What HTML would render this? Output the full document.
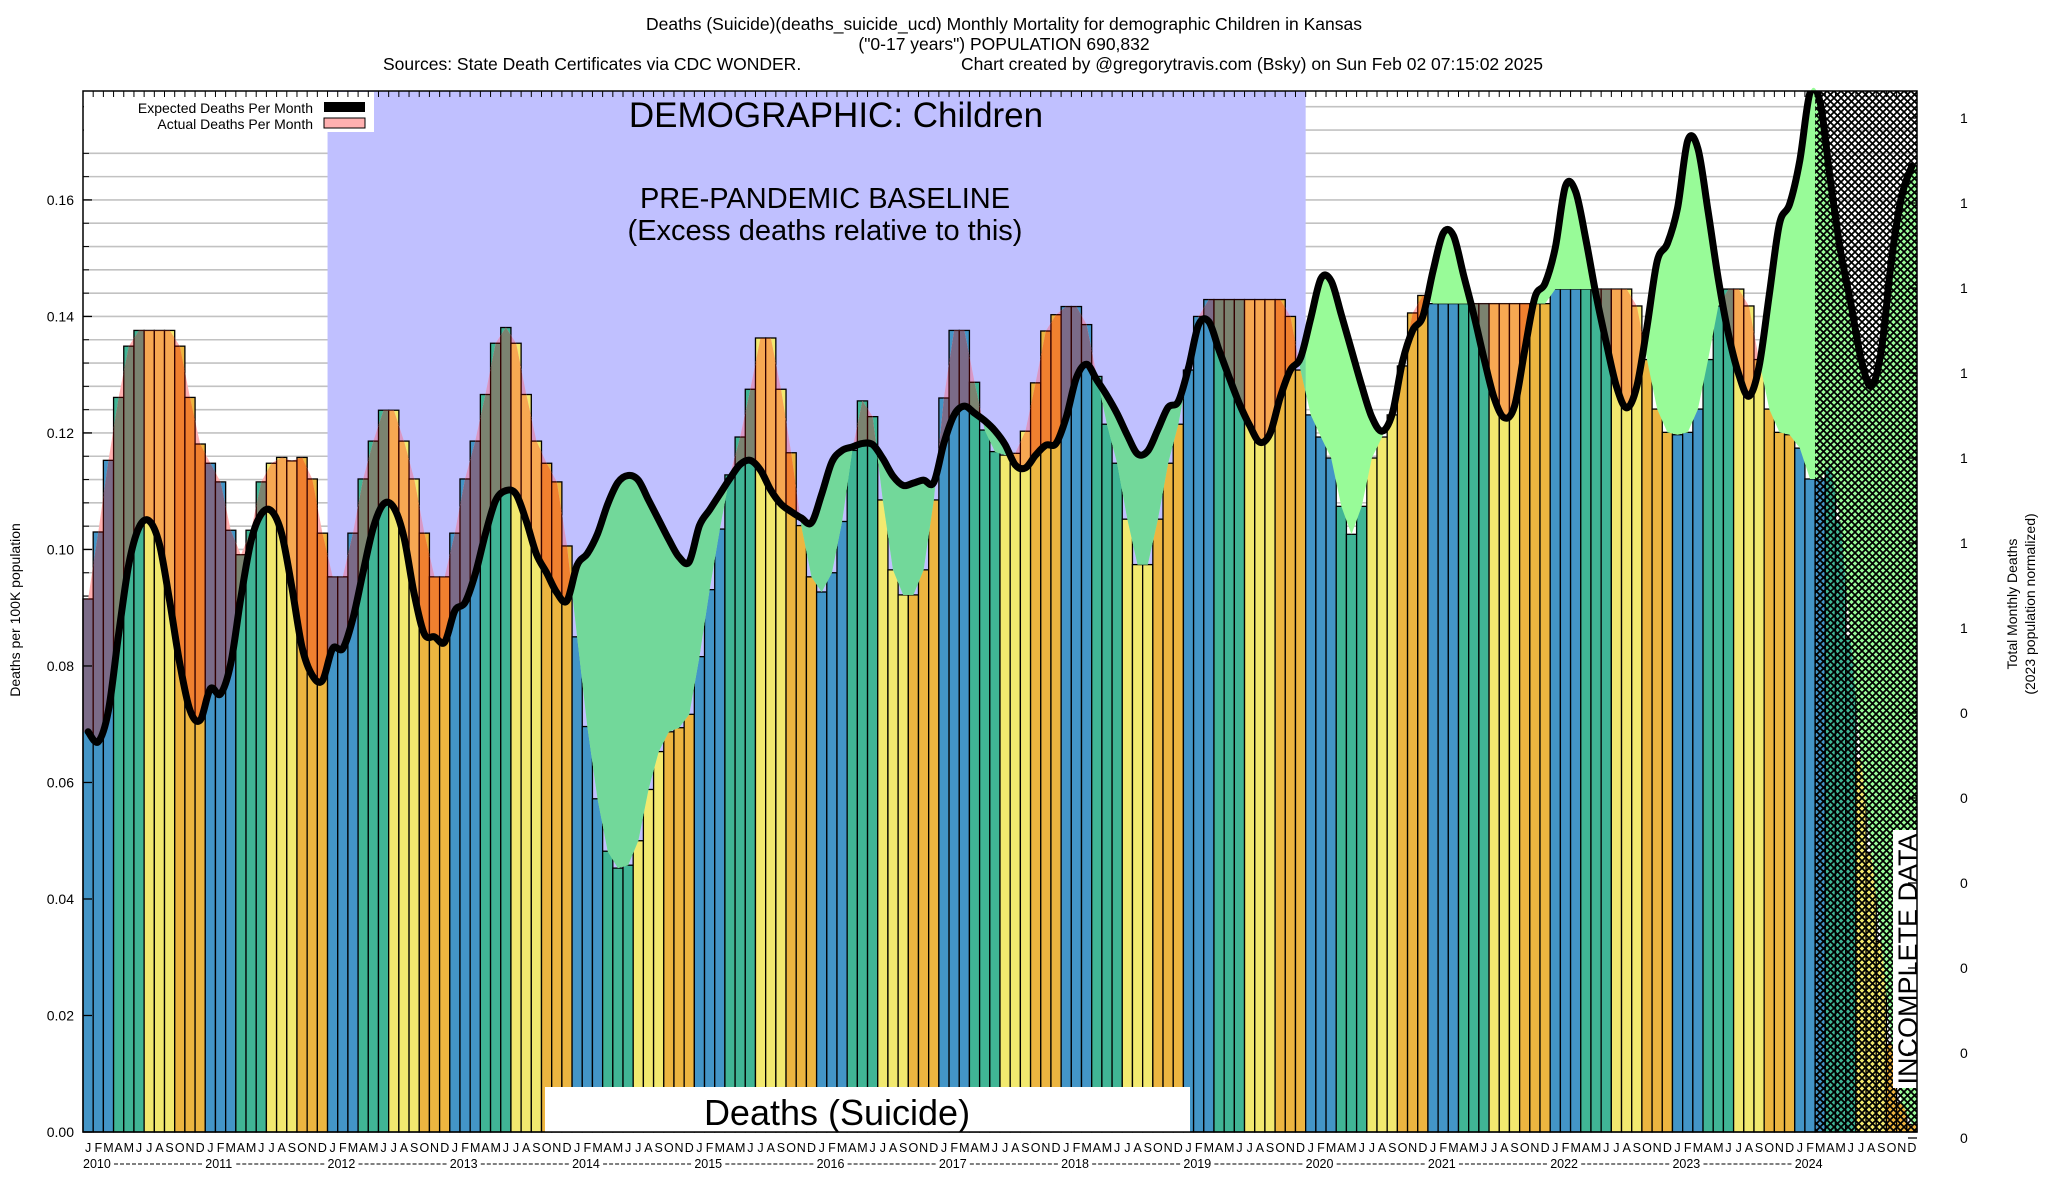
<!DOCTYPE html>
<html><head><meta charset="utf-8"><style>
html,body{margin:0;padding:0;background:#fff}
svg{display:block}
text{font-family:"Liberation Sans",sans-serif}
</style></head><body>
<svg id="chart" xmlns="http://www.w3.org/2000/svg" width="2048" height="1200" viewBox="0 0 2048 1200">
<defs>
<pattern id="hatch" width="7" height="7" patternUnits="userSpaceOnUse">
<path d="M0,0 L7,7 M7,0 L0,7" stroke="#000" stroke-width="1.7"/>
</pattern>
</defs>
<g id="titles" font-size="17.5" text-anchor="middle" fill="#000">
<text x="1004" y="30">Deaths (Suicide)(deaths_suicide_ucd) Monthly Mortality for demographic Children in Kansas</text>
<text x="1004" y="50">("0-17 years") POPULATION 690,832</text>
<text x="383" y="70" text-anchor="start">Sources: State Death Certificates via CDC WONDER.</text>
<text x="961" y="70" text-anchor="start">Chart created by @gregorytravis.com (Bsky) on Sun Feb 02 07:15:02 2025</text>
</g>
<g id="plot"></g>
</svg>
<script>
const actual = [
.0915,.103,.1153,.1261,.1349,.1376,.1376,.1376,.1376,.1349,.1261,.1181,
.1148,.1116,.1033,.0991,.1033,.1116,.1148,.1158,.1152,.1158,.1121,.1028,
.0953,.0953,.1028,.1121,.1186,.1239,.1239,.1186,.1121,.1028,.0953,.0953,
.1028,.1121,.1186,.1266,.1354,.1381,.1354,.1266,.1186,.1148,.1116,.1006,
.0850,.0696,.0572,.0482,.0453,.0458,.0500,.0588,.0653,.0687,.0694,.0717,
.0816,.0931,.1035,.1128,.1193,.1275,.1363,.1363,.1275,.1166,.1041,.0953,
.0927,.0960,.1048,.1170,.1255,.1228,.1085,.0965,.0922,.0922,.0965,.1085,
.1260,.1376,.1376,.1287,.1205,.1168,.1162,.1165,.1203,.1286,.1375,.1403,
.1417,.1417,.1386,.1297,.1215,.1148,.1052,.0974,.0974,.1052,.1148,.1215,
.1308,.1400,.1429,.1429,.1429,.1429,.1429,.1429,.1429,.1429,.1400,.1308,
.1231,.1193,.1157,.1074,.1026,.1074,.1157,.1193,.1231,.1315,.1406,.1436,
.1422,.1422,.1422,.1422,.1422,.1422,.1422,.1422,.1422,.1422,.1422,.1422,
.1447,.1447,.1447,.1447,.1447,.1447,.1447,.1447,.1418,.1326,.1241,.1201,
.1197,.1201,.1241,.1326,.1418,.1447,.1447,.1418,.1326,.1241,.1201,.1197,
.1174,.1121,.1121,.1144,.1047,.0846,.0641,.048,.0327,.015,.005,.0013];
const expected = [
.0687,.067,.0724,.0855,.0975,.1038,.1049,.1009,.0912,.0804,.0724,.0707,
.0761,.0752,.0804,.0918,.1015,.1061,.1066,.1027,.0935,.0832,.0784,.0775,
.083,.083,.0882,.0962,.1038,.1078,.1072,.1021,.0924,.0855,.085,.0841,
.0895,.0909,.0958,.1027,.1084,.1101,.1095,.1049,.0992,.096,.0926,.0912,
.0973,.0993,.1027,.1078,.1115,.1127,.1119,.1085,.1051,.1017,.0987,.0979,
.1041,.1068,.1095,.1122,.1146,.1153,.1136,.1102,.1078,.1065,.1054,.1046,
.1095,.1150,.1170,.1176,.1182,.1180,.1156,.1126,.1110,.1114,.1119,.1115,
.1183,.1231,.1246,.1234,.1221,.1204,.118,.1145,.1140,.1162,.1179,.1182,
.1227,.1295,.1318,.1291,.1264,.1233,.1196,.1164,.1169,.1206,.1244,.1254,
.1312,.1386,.1391,.1342,.1295,.1250,.1213,.1184,.1199,.1261,.1308,.1329,
.1397,.1465,.1461,.1403,.1342,.1281,.1227,.1203,.1233,.1322,.1376,.1400,
.1478,.1543,.1539,.1471,.1403,.1328,.1260,.1226,.1246,.1342,.1433,.1457,
.1518,.1624,.1614,.1532,.1437,.1355,.1280,.1243,.1280,.1382,.1495,.1525,
.1586,.1702,.1688,.1580,.1464,.1369,.1301,.1263,.1314,.1437,.1559,.1593,
.1668,.1784,.1767,.1634,.1512,.1423,.1328,.1280,.1342,.1498,.1607,.1658];
const years = [2010,2011,2012,2013,2014,2015,2016,2017,2018,2019,2020,2021,2022,2023,2024];
const yTicks = [0,0.02,0.04,0.06,0.08,0.10,0.12,0.14,0.16];
const rightTickLabels = ["1","1","1","1","1","1","1","0","0","0","0","0","0"];
const monthLetters = ["J","F","M","A","M","J","J","A","S","O","N","D"];
const baselineStart = 24, baselineEnd = 120, incompleteStart = 170;

const L=83,R=1917,T=91,B=1132,YMAX=0.1787;
const N=actual.length, bw=(R-L)/N;
const xl=i=>L+i*bw, xc=i=>L+(i+0.5)*bw, y=v=>B-(v/YMAX)*(B-T);
const NS="http://www.w3.org/2000/svg";
const plot=document.getElementById('plot');
const defs=document.querySelector('defs');
function mk(tag,attrs,parent){const e=document.createElementNS(NS,tag);for(const k in attrs)e.setAttribute(k,attrs[k]);(parent||plot).appendChild(e);return e;}

// paths
function smoothPath(vals){
  const p=vals.map((v,i)=>[xc(i),y(v)]);
  let d=`M${p[0][0]},${p[0][1]}`;
  for(let i=0;i<p.length-1;i++){
    const p0=p[i-1]||p[i],p1=p[i],p2=p[i+1],p3=p[i+2]||p[i+1];
    const c1=[p1[0]+(p2[0]-p0[0])/6,p1[1]+(p2[1]-p0[1])/6];
    const c2=[p2[0]-(p3[0]-p1[0])/6,p2[1]-(p3[1]-p1[1])/6];
    d+=` C${c1[0]},${c1[1]} ${c2[0]},${c2[1]} ${p2[0]},${p2[1]}`;
  }
  return d;
}
const expD=smoothPath(expected);
let actD=`M${L},${y(actual[0])}`;
actual.forEach((v,i)=>{actD+=` L${xc(i)},${y(v)}`;});
actD+=` L${R},${y(actual[N-1])}`;
const expFull=`M${L},${y(expected[0])} L`+expD.slice(1)+` L${R},${y(expected[N-1])}`;

function clip(id,d){const c=mk('clipPath',{id},defs);mk('path',{d},c);}
clip('aboveExp',expFull+` L${R},${T-20} L${L},${T-20} Z`);
clip('belowAct',actD+` L${R},${B} L${L},${B} Z`);
clip('aboveAct',actD+` L${R},${T-20} L${L},${T-20} Z`);
const bc=mk('clipPath',{id:'baseClip'},defs);
mk('rect',{x:xl(baselineStart),y:T,width:xl(baselineEnd)-xl(baselineStart),height:B-T},bc);
const pc=mk('clipPath',{id:'plotClip'},defs);
mk('rect',{x:L,y:T,width:R-L,height:B-T},pc);

// gridlines
const grid=mk('g',{});


for(let k=0;k<=44;k++){const v=k*0.004;if(v>YMAX)break;
  mk('line',{x1:L,x2:R,y1:y(v),y2:y(v),stroke:'#c2c2c2','stroke-width':1.6},grid);
  mk('line',{x1:L,x2:L+6,y1:y(v),y2:y(v),stroke:'#000','stroke-width':1},grid);}
// baseline window
const bwin=mk('rect',{x:xl(baselineStart),y:T,width:xl(baselineEnd)-xl(baselineStart),height:B-T,fill:'#c0c0ff'});



const cols=['#4395c7','#40b595','#f2e96f','#ecb540'];
const tint=['#7b6b88','#7b8370','#f7a852','#f0802f'];
const season=i=>Math.floor((i%12)/3);
// bars
const barsG=mk('g',{});


actual.forEach((v,i)=>{
  const r=mk('rect',{x:xl(i),y:y(v),width:bw,height:B-y(v),fill:cols[season(i)],stroke:'#000','stroke-width':1.3},barsG);
  
  
});
// excess (pink) region
const exG=mk('g',{'clip-path':'url(#aboveExp)'});


mk('path',{d:actD+` L${R},${B} L${L},${B} Z`,fill:'#ffb0b0'},exG);
const exB=mk('g',{'clip-path':'url(#baseClip)'},exG);
mk('path',{d:actD+` L${R},${B} L${L},${B} Z`,fill:'#d898c6'},exB);
const tintG=mk('g',{'clip-path':'url(#belowAct)'},exG);
actual.forEach((v,i)=>{
  mk('rect',{x:xl(i),y:y(v),width:bw,height:B-y(v),fill:tint[season(i)],stroke:'#300','stroke-width':1.3},tintG);
});
// deficit (green) region
const dfG=mk('g',{'clip-path':'url(#aboveAct)'});


mk('path',{d:expFull+` L${R},${B} L${L},${B} Z`,fill:'#98fb98'},dfG);
const dfB=mk('g',{'clip-path':'url(#baseClip)'},dfG);
mk('path',{d:expFull+` L${R},${B} L${L},${B} Z`,fill:'#72d89a'},dfB);

// hatch incomplete
const hatch=mk('rect',{x:xl(incompleteStart),y:T,width:R-xl(incompleteStart),height:B-T,fill:'url(#hatch)'});



// expected line
const eline=mk('path',{d:expD,fill:'none',stroke:'#000','stroke-width':7,'stroke-linejoin':'round','stroke-linecap':'round','clip-path':'url(#plotClip)'});



// suicide label box
const sb=mk('rect',{x:545,y:1087,width:645,height:B-1087,fill:'#fff'});


const st=mk('text',{x:837,y:1125,'font-size':36,'text-anchor':'middle'});
st.textContent='Deaths (Suicide)';



// demographic text
const t1=mk('text',{x:836,y:127,'font-size':35,'text-anchor':'middle'});t1.textContent='DEMOGRAPHIC: Children';


const t2=mk('text',{x:825,y:208,'font-size':29,'text-anchor':'middle'});t2.textContent='PRE-PANDEMIC BASELINE';


const t3=mk('text',{x:825,y:240,'font-size':29,'text-anchor':'middle'});t3.textContent='(Excess deaths relative to this)';



// incomplete label
const ib=mk('rect',{x:1893,y:830,width:28,height:258,fill:'#fff'});


const it=mk('text',{x:0,y:0,'font-size':27,'text-anchor':'middle',transform:'translate(1917,959) rotate(-90)'});
it.textContent='INCOMPLETE DATA';



// legend
const lg=mk('g',{});


mk('rect',{x:L+1,y:T+1,width:290,height:40,fill:'#fff'},lg);
const l1=mk('text',{x:313,y:113,'font-size':14,'text-anchor':'end'},lg);l1.textContent='Expected Deaths Per Month';


mk('rect',{x:324,y:102,width:41,height:10,fill:'#000'},lg);
const l2=mk('text',{x:313,y:129,'font-size':14,'text-anchor':'end'},lg);l2.textContent='Actual Deaths Per Month';


mk('rect',{x:324,y:118,width:41,height:10,fill:'#ffb0b0',stroke:'#000','stroke-width':1},lg);

// frame & ticks
const fr=mk('rect',{x:L,y:T,width:R-L,height:B-T,fill:'none',stroke:'#000','stroke-width':1.5});


for(let i=0;i<=N;i++){mk('line',{x1:xl(i),x2:xl(i),y1:T,y2:T+6,stroke:'#000','stroke-width':1});}

// y axis
const ya=mk('g',{'font-size':14,'text-anchor':'end'});


yTicks.forEach(v=>{const t=mk('text',{x:74,y:y(v)+5},ya);t.textContent=v.toFixed(2);
  mk('line',{x1:L,x2:L+9,y1:y(v),y2:y(v),stroke:'#000','stroke-width':1.3},ya);});
const yt=mk('text',{x:0,y:0,'font-size':14,'text-anchor':'middle',transform:'translate(20,610) rotate(-90)'});
yt.textContent='Deaths per 100K population';



// right axis
const ra=mk('g',{'font-size':14});


rightTickLabels.forEach((s,k)=>{const yy=118+k*85;const t=mk('text',{x:1960,y:yy+5},ra);t.textContent=s;
  mk('line',{x1:R-9,x2:R,y1:yy,y2:yy,stroke:'#000','stroke-width':1.3},ra);});
const rt=mk('text',{x:0,y:0,'font-size':14,'text-anchor':'middle',transform:'translate(2017,604) rotate(-90)'});
rt.textContent='Total Monthly Deaths';


const rt2=mk('text',{x:0,y:0,'font-size':14,'text-anchor':'middle',transform:'translate(2035,604) rotate(-90)'});
rt2.textContent='(2023 population normalized)';



// x axis
const xa=mk('g',{'font-size':12.5});


for(let i=0;i<N;i++){const t=mk('text',{x:xc(i),y:1152,'text-anchor':'middle'},xa);t.textContent=monthLetters[i%12];}
years.forEach((yr,k)=>{const x0=xl(k*12);const t=mk('text',{x:x0,y:1168},xa);t.textContent=yr;
  if(k<years.length-1){mk('line',{x1:x0+31,x2:xl(k*12+12)-2,y1:1164,y2:1164,stroke:'#000','stroke-width':1,'stroke-dasharray':'4,2'},xa);}});
</script>
</body></html>
